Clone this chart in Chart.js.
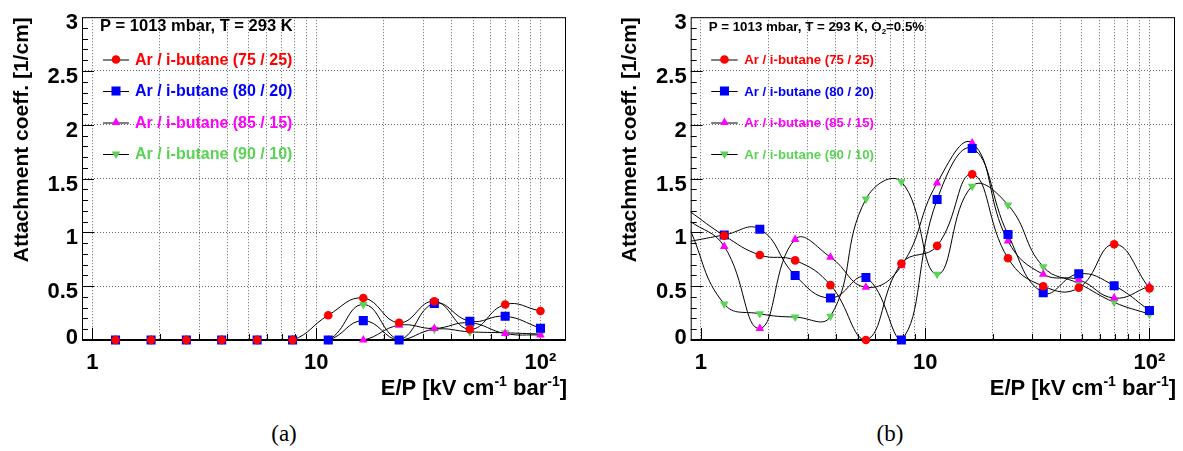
<!DOCTYPE html>
<html>
<head>
<meta charset="utf-8">
<script src="https://cdn.jsdelivr.net/npm/chart.js@4.4.1/dist/chart.umd.min.js"></script>
<style>
  body { margin: 0; background: #fff; width: 1183px; height: 451px; position: relative; overflow: hidden; }
  .panel { position: absolute; top: 0; height: 400px; }
  #wrapA { left: 0; width: 590px; }
  #wrapB { left: 600px; width: 583px; }
  .cap { position: absolute; top: 421px; width: 60px; text-align: center; font-family: "Liberation Serif", "Times New Roman", serif; font-size: 23px; }
</style>
</head>
<body>
<div class="panel" id="wrapA"><canvas id="chartA" width="590" height="400"></canvas></div>
<div class="panel" id="wrapB"><canvas id="chartB" width="583" height="400"></canvas></div>
<div class="cap" style="left:254px">(a)</div>
<div class="cap" style="left:860px">(b)</div>
<script>
// E/P values of the measured points [kV cm-1 bar-1]; the first one sits just left of the axis range
const epPoints = [0.885, 1.27, 1.83, 2.63, 3.78, 5.44, 7.83, 11.3, 16.2, 23.4, 33.6, 48.4, 69.6, 100];
const xGridTicks = [1, 2, 3, 4, 5, 6, 7, 8, 9, 10, 20, 30, 40, 50, 60, 70, 80, 90, 100];
const xTickText = { 1: '1', 10: '10', 100: '10\u00b2' };
const mixNames = ['Ar / i-butane (75 / 25)', 'Ar / i-butane (80 / 20)', 'Ar / i-butane (85 / 15)', 'Ar / i-butane (90 / 10)'];

// (a) no oxygen
const a7525 = [0, 0, 0, 0, 0, 0, 0, 0.23, 0.39, 0.16, 0.36, 0.10, 0.33, 0.27];
const a8020 = [0, 0, 0, 0, 0, 0, 0, 0, 0.18, 0, 0.34, 0.175, 0.22, 0.11];
const a8515 = [0, 0, 0, 0, 0, 0, 0, 0, 0, 0.137, 0.107, 0.16, 0.06, 0.046];
const a9010 = [0, 0, 0, 0, 0, 0, 0, 0, 0.33, 0, 0.10, 0.076, 0.067, 0.055];

// (b) O2 = 0.5%
const b7525 = [1.20, 0.97, 0.79, 0.74, 0.51, 0, 0.71, 0.875, 1.54, 0.76, 0.50, 0.485, 0.89, 0.48];
const b8020 = [0.915, 0.976, 1.03, 0.60, 0.39, 0.58, 0, 1.305, 1.78, 0.98, 0.44, 0.615, 0.505, 0.275];
const b8515 = [1.11, 0.87, 0.107, 0.935, 0.77, 0.49, 0.69, 1.46, 1.83, 0.92, 0.61, 0.56, 0.39, 0.50];
const b9010 = [1.045, 0.335, 0.244, 0.213, 0.22, 1.31, 1.47, 0.61, 1.43, 1.255, 0.68, 0.525, 0.35, 0.24];

const FONT = '"Liberation Sans", Arial, Helvetica, sans-serif';
Chart.defaults.font.family = FONT;
Chart.defaults.color = '#000';

const markers = [
  { color: '#ff0000', pointStyle: 'circle', radius: 4.3, rotation: 0 },
  { color: '#0000ff', pointStyle: 'rect', radius: 6.4, rotation: 0 },
  { color: '#ff00ff', pointStyle: 'triangle', radius: 5, rotation: 0 },
  { color: '#59d454', pointStyle: 'triangle', radius: 5, rotation: 180 }
];

function series(values) {
  return values.map((v, i) => ({ x: epPoints[i], y: v }));
}

// draws a string made of normal / sup / sub pieces
function richText(ctx, parts, x, y, size, align) {
  const small = Math.round(size * 0.62);
  const fontOf = s => 'bold ' + s + 'px ' + FONT;
  let total = 0;
  parts.forEach(p => { ctx.font = fontOf(p.sup || p.sub ? small : size); total += ctx.measureText(p.t).width; });
  let cx = align === 'right' ? x - total : x;
  ctx.textAlign = 'left';
  ctx.textBaseline = 'alphabetic';
  parts.forEach(p => {
    ctx.font = fontOf(p.sup || p.sub ? small : size);
    const dy = p.sup ? -size * 0.42 : (p.sub ? size * 0.25 : 0);
    ctx.fillText(p.t, cx, y + dy);
    cx += ctx.measureText(p.t).width;
  });
}

const rootFrame = {
  id: 'rootFrame',
  beforeDatasetsDraw(chart) {
    const { ctx, chartArea: a, scales: { x, y } } = chart;
    ctx.save();
    ctx.strokeStyle = '#000';
    ctx.lineWidth = 1;
    ctx.strokeRect(a.left + 0.5, a.top + 0.5, a.right - a.left - 1, a.bottom - a.top);
    ctx.beginPath();
    xGridTicks.forEach(v => {
      const px = Math.round(x.getPixelForValue(v)) + 0.5;
      const len = xTickText[v] ? 12 : 6;
      ctx.moveTo(px, a.bottom);
      ctx.lineTo(px, a.bottom - len);
    });
    for (let k = 1; k < 30; k++) {
      const py = Math.round(y.getPixelForValue(k / 10)) + 0.5;
      const len = k % 5 === 0 ? 12 : 6;
      ctx.moveTo(a.left, py);
      ctx.lineTo(a.left + len, py);
    }
    ctx.stroke();
    ctx.lineWidth = 2;
    ctx.beginPath();
    ctx.moveTo(a.left, a.bottom);
    ctx.lineTo(a.right, a.bottom);
    ctx.stroke();
    ctx.restore();
  },
  afterDraw(chart, args, o) {
    const { ctx, chartArea: a } = chart;
    ctx.save();
    ctx.fillStyle = '#000';
    richText(ctx, o.header, a.left + o.headerDx, 31, o.headerSize, 'left');
    mixNames.forEach((name, i) => {
      const yy = o.rowY[i];
      const m = markers[i];
      ctx.strokeStyle = '#000';
      ctx.lineWidth = 1;
      ctx.beginPath();
      ctx.moveTo(a.left + o.lineX0, yy + 0.5);
      ctx.lineTo(a.left + o.lineX1, yy + 0.5);
      ctx.stroke();
      ctx.fillStyle = m.color;
      ctx.strokeStyle = m.color;
      Chart.helpers.drawPoint(ctx, { pointStyle: m.pointStyle, radius: m.radius, rotation: m.rotation, borderWidth: 0 },
        a.left + (o.lineX0 + o.lineX1) / 2, yy);
      ctx.font = 'bold ' + o.textSize + 'px ' + FONT;
      ctx.textAlign = 'left';
      ctx.textBaseline = 'middle';
      ctx.fillText(name, a.left + o.textX, yy + 1);
    });
    ctx.fillStyle = '#000';
    richText(ctx, [{ t: 'E/P [kV cm' }, { t: '-1', sup: true }, { t: ' bar' }, { t: '-1', sup: true }, { t: ']' }],
      a.right + 1, 395, 22, 'right');
    ctx.restore();
  }
};

function makePanel(id, values, cfg) {
  const datasets = values.map((vals, i) => ({
    label: mixNames[i],
    data: series(vals),
    borderColor: '#000',
    borderWidth: 1,
    backgroundColor: markers[i].color,
    pointBackgroundColor: markers[i].color,
    pointBorderColor: markers[i].color,
    pointBorderWidth: 0,
    pointStyle: markers[i].pointStyle,
    pointRadius: epPoints.map(v => v < 0.9 ? 0 : markers[i].radius),
    pointRotation: markers[i].rotation,
    tension: 0.45,
    clip: { left: 0, top: 0, right: 0, bottom: 8 }
  }));
  return new Chart(document.getElementById(id), {
    type: 'line',
    data: { datasets },
    options: {
      responsive: false,
      animation: false,
      events: [],
      layout: { autoPadding: false, padding: { top: 12, right: cfg.padRight, bottom: 0, left: 0 } },
      plugins: {
        legend: { display: false },
        tooltip: { enabled: false },
        rootFrame: cfg.frame
      },
      scales: {
        x: {
          type: 'logarithmic',
          min: 0.9,
          max: 130,
          afterBuildTicks: s => { s.ticks = xGridTicks.map(v => ({ value: v })); },
          afterFit: s => { s.height = 60; },
          grid: { color: 'rgba(0,0,0,0.6)', lineWidth: 1, drawTicks: false },
          border: { display: false, dash: [1, 2] },
          ticks: {
            autoSkip: false, maxRotation: 0, padding: 10,
            font: { size: 22, weight: 'bold' },
            callback: v => xTickText[v] || ''
          }
        },
        y: {
          min: 0,
          max: 3,
          afterFit: s => { s.width = cfg.yWidth; },
          grid: { color: 'rgba(0,0,0,0.6)', lineWidth: 1, drawTicks: false },
          border: { display: false, dash: [1, 2] },
          ticks: {
            stepSize: 0.5, padding: 4, labelOffset: 6, autoSkip: false,
            // the "0" label is lifted off the bottom axis
            font: c => ({ size: 22, weight: 'bold', lineHeight: c.tick && c.tick.value === 0 ? 0.75 : 1.2 }),
            callback: v => v === 0 ? ['0', ''] : String(v)
          },
          title: {
            display: true, text: 'Attachment coeff. [1/cm]', align: 'end',
            font: { size: 21, weight: 'bold' }, padding: { top: cfg.titlePad, bottom: 0 }
          }
        }
      }
    },
    plugins: [rootFrame]
  });
}

makePanel('chartA', [a7525, a8020, a8515, a9010], {
  padRight: 24, yWidth: 82, titlePad: 9.2,
  frame: {
    header: [{ t: 'P = 1013 mbar, T = 293 K' }], headerDx: 18, headerSize: 16.5, textSize: 16,
    rowY: [59.5, 91, 122.5, 154], lineX0: 21, lineX1: 47, textX: 53
  }
});
makePanel('chartB', [b7525, b8020, b8515, b9010], {
  padRight: 8, yWidth: 90.7, titlePad: 17.7,
  frame: {
    header: [{ t: 'P = 1013 mbar, T = 293 K, O' }, { t: '2', sub: true }, { t: '=0.5%' }], headerDx: 18, headerSize: 13.3, textSize: 13.2,
    rowY: [59.5, 91, 122.5, 154], lineX0: 20.5, lineX1: 47, textX: 53.5
  }
});
</script>
</body>
</html>
